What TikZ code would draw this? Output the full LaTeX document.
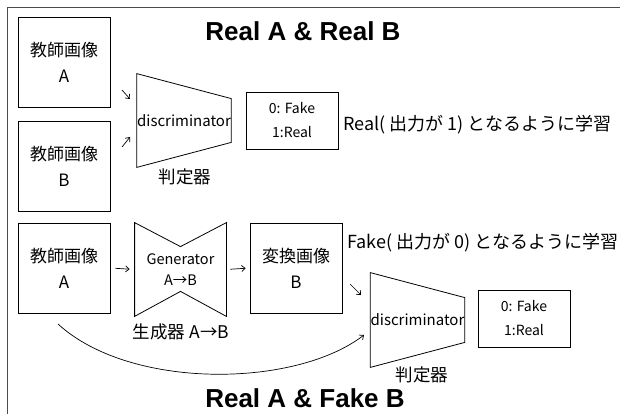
\documentclass[tikz,border=0pt]{standalone}
\usepackage{fontspec}
\setmainfont{Noto Sans CJK JP}
\newfontfamily\titlefont{Liberation Sans}
\usetikzlibrary{arrows.meta,calc}
\begin{document}
\begin{tikzpicture}[x=1pt,y=-1pt,
  line width=0.8pt,
  box/.style={draw, minimum width=92pt, minimum height=90pt, inner sep=0pt, align=center, font=\fontsize{17}{26}\selectfont},
  outbox/.style={draw, minimum width=92pt, minimum height=57pt, inner sep=0pt, align=center, font=\fontsize{14}{24}\selectfont},
  shapebox/.style={minimum width=92pt, minimum height=93pt, inner sep=0pt, align=center},
  lbl/.style={inner sep=0pt, font=\fontsize{17.5}{20}\selectfont},
  note/.style={inner sep=0pt, anchor=west, font=\fontsize{18}{20}\selectfont},
  ttl/.style={inner sep=0pt, font=\titlefont\bfseries\fontsize{26}{30}\selectfont},
  arr/.style={-{Straight Barb[length=3.5pt,width=6pt]}, line width=0.7pt}
]
\useasboundingbox (0,0) rectangle (620,414);
% outer frame
\draw[line width=0.9pt, black!70] (7,414) -- (7,7) -- (620,7);

% titles
\node[ttl] (t1) at (303,31) {Real A \& Real B};
\node[ttl] (t2) at (305,398) {Real A \& Fake B};

% upper part
\node[box] (a1) at (64,62.5) {教師画像\\A};
\node[box] (b1) at (64,166) {教師画像\\B};
\node[shapebox, minimum height=93pt, font=\fontsize{15}{16}\selectfont] (d1) at (184,120.5) {discriminator};
\draw (d1.north west) -- ($(d1.north east)+(0,25)$) -- ($(d1.south east)+(0,-25)$) -- (d1.south west) -- cycle;
\node[lbl] (l1) at (185,177) {判定器};
\node[outbox] (o1) at (292,120.5) {0: Fake\\1:Real};
\node[note] (n1) at (343,125) {Real( 出力が 1) となるように学習};

\coordinate (s1) at (122,90);
\coordinate (e1) at (130,99);
\coordinate (s2) at (122,147);
\coordinate (e2) at (130,137);
\draw[arr] (s1) -- (e1);
\draw[arr] (s2) -- (e2);

% lower part
\node[box] (a2) at (64,268) {教師画像\\A};
\node[shapebox, minimum width=91pt, font=\fontsize{14.5}{21}\selectfont] (g) at (180.5,269.5) {Generator\\A→B};
\draw (g.north west) -- ($(g.north)+(0,24)$) -- (g.north east) -- (g.south east) -- ($(g.south)+(0,-25)$) -- (g.south west) -- cycle;
\node[lbl] (l2) at (181,332) {生成器 A→B};
\node[box] (bc) at (296,268) {変換画像\\B};
\node[note] (n2) at (347,243) {Fake( 出力が 0) となるように学習};
\node[shapebox, minimum width=93pt, minimum height=94pt, font=\fontsize{15}{16}\selectfont] (d2) at (417.5,320) {discriminator};
\draw (d2.north west) -- ($(d2.north east)+(0,25)$) -- ($(d2.south east)+(0,-25)$) -- (d2.south west) -- cycle;
\node[lbl] (l3) at (422,375) {判定器};
\node[outbox] (o2) at (524,318.5) {0: Fake\\1:Real};

\draw[arr, shorten <=5pt, shorten >=5pt] (a2.east) -- (g.west);
\draw[arr, shorten <=4pt, shorten >=4pt] (g.east) -- (bc.west);
\coordinate (s3) at (350,284);
\coordinate (e3) at (361,295);
\draw[arr] (s3) -- (e3);
\coordinate (c0) at (58,324);
\coordinate (c1) at (364,335);
\draw[arr] (c0) .. controls (130,390) and (295,388) .. (c1);
\end{tikzpicture}
\end{document}
